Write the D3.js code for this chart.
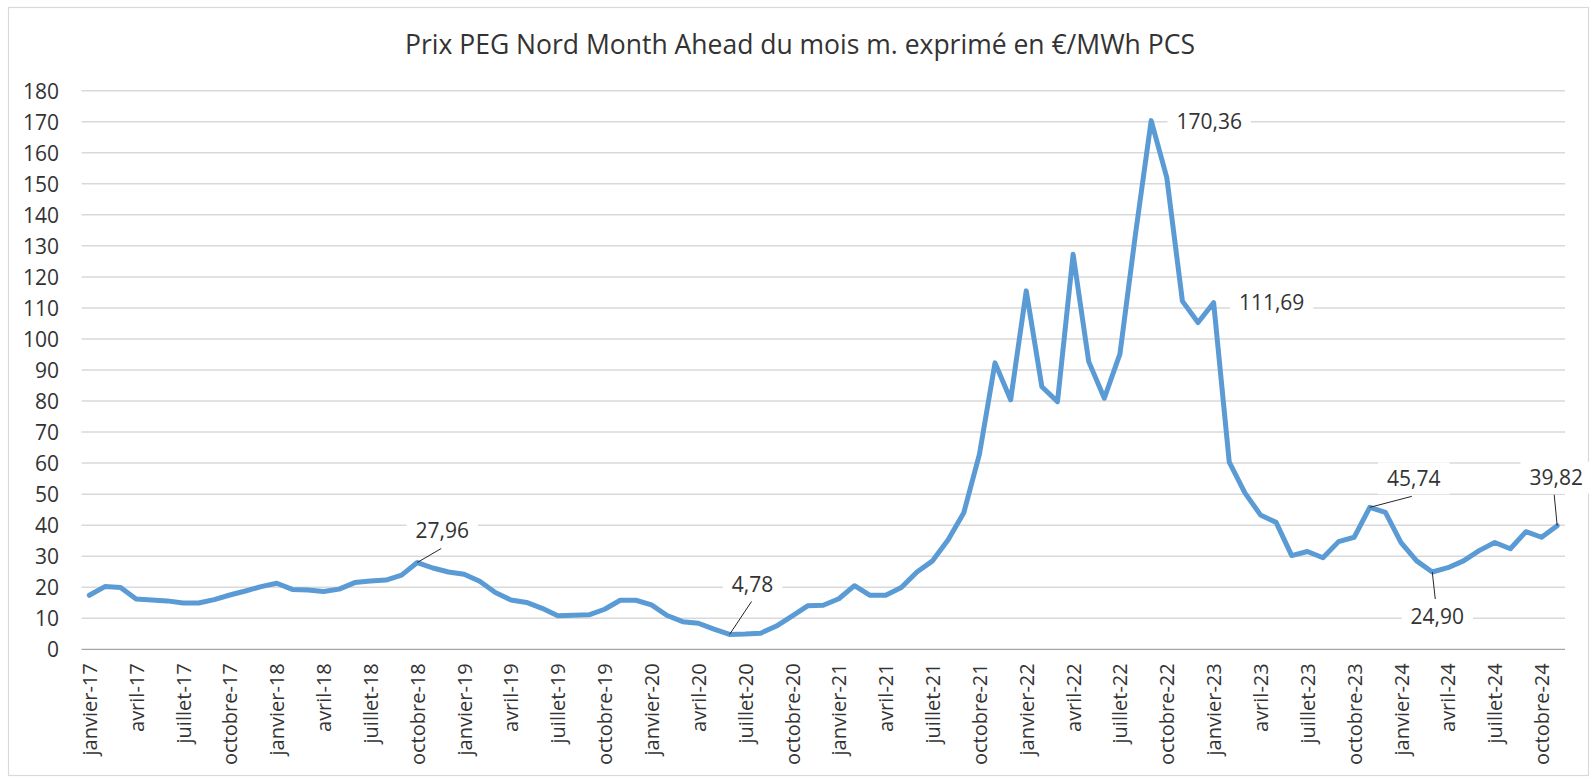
<!DOCTYPE html>
<html>
<head>
<meta charset="utf-8">
<script src="https://cdn.jsdelivr.net/npm/d3@7"></script>
<style>
  html, body { margin: 0; padding: 0; background: #fff; }
  svg { display: block; }
</style>
</head>
<body>
<svg id="chart" width="1596" height="780"></svg>
<script>
// ---------------- DATA ----------------
const title = "Prix PEG Nord Month Ahead du mois m. exprimé en €/MWh PCS";
const monthNames = ["janvier","février","mars","avril","mai","juin","juillet","août","septembre","octobre","novembre","décembre"];
const years = ["17","18","19","20","21","22","23","24"];
// categories: janvier-17 ... novembre-24 (95 months)
const categories = [];
years.forEach(y => monthNames.forEach(m => categories.push(m + "-" + y)));
categories.splice(95);

const prices = [
  17.4, 20.2, 19.9, 16.2, 15.9, 15.6, 14.9, 14.9, 16.0, 17.5, 18.8, 20.2,   // 2017
  21.3, 19.3, 19.1, 18.6, 19.4, 21.5, 22.0, 22.3, 23.9, 27.96, 26.2, 24.9,  // 2018
  24.2, 21.9, 18.3, 15.9, 15.1, 13.2, 10.8, 11.0, 11.1, 12.9, 15.8, 15.8,   // 2019
  14.3, 10.9, 8.9, 8.4, 6.5, 4.78, 4.9, 5.2, 7.5, 10.7, 14.0, 14.2,         // 2020
  16.3, 20.5, 17.4, 17.4, 19.9, 24.9, 28.5, 35.3, 44.0, 62.8, 92.3, 80.4,   // 2021
  115.5, 84.6, 79.8, 127.3, 92.7, 80.9, 95.2, 134.0, 170.36, 152.0, 112.2, 105.3, // 2022
  111.69, 60.3, 50.4, 43.3, 40.9, 30.2, 31.5, 29.5, 34.7, 36.1, 45.74, 44.1,    // 2023
  34.4, 28.5, 24.90, 26.3, 28.5, 31.8, 34.4, 32.4, 37.9, 36.1, 39.82            // 2024
];

const tickLabels = [
  "janvier-17","avril-17","juillet-17","octobre-17",
  "janvier-18","avril-18","juillet-18","octobre-18",
  "janvier-19","avril-19","juillet-19","octobre-19",
  "janvier-20","avril-20","juillet-20","octobre-20",
  "janvier-21","avril-21","juillet-21","octobre-21",
  "janvier-22","avril-22","juillet-22","octobre-22",
  "janvier-23","avril-23","juillet-23","octobre-23",
  "janvier-24","avril-24","juillet-24","octobre-24"
];
const yTicks = [0,10,20,30,40,50,60,70,80,90,100,110,120,130,140,150,160,170,180];

// months that carry a data label
const labelledMonths = ["octobre-18","juin-20","septembre-22","janvier-23","novembre-23","mars-24","novembre-24"];

// ---------------- STYLE / LAYOUT ----------------
const FONT = "'Open Sans', 'Liberation Sans', Arial, sans-serif";
const textColor = "#333333";
const lineColor = "#5B9BD5";
const plot = { left: 81.5, right: 1565, top: 90.7, bottom: 649.3 };
// label placement offsets (center of label relative to point) + leader end
const labelStyle = {
  "octobre-18":   { dx: 25, dy: -32, lx: 24, ly: -14 },
  "juin-20":      { dx: 23, dy: -50, lx: 22, ly: -33 },
  "septembre-22": { dx: 58, dy: 1.5 },
  "janvier-23":   { dx: 58, dy: 0 },
  "novembre-23":  { dx: 44, dy: -29, lx: 42, ly: -11 },
  "mars-24":      { dx: 5,  dy: 45, lx: 3, ly: 27 },
  "novembre-24":  { dx: -1, dy: -48, lx: -3, ly: -31 }
};

const svg = d3.select("#chart");

// frame
svg.append("rect")
  .attr("x", 8.5).attr("y", 7.5).attr("width", 1580).attr("height", 768)
  .attr("fill", "#fff").attr("stroke", "#D9D9D9").attr("stroke-width", 1.2);

const x = d3.scalePoint().domain(categories).range([plot.left, plot.right]).padding(0.5);
const y = d3.scaleLinear().domain([0, 180]).range([plot.bottom, plot.top]);

// title
svg.append("text")
  .attr("x", 800).attr("y", 54)
  .attr("text-anchor", "middle")
  .attr("font-family", FONT).attr("font-size", 26.5)
  .attr("fill", textColor)
  .text(title);

// gridlines
const yAxis = d3.axisLeft(y).tickValues(yTicks).tickSize(0).tickPadding(0).tickFormat(d3.format("d"));
svg.append("g").selectAll("line.grid").data(yTicks.filter(d => d > 0)).join("line")
  .attr("class", "grid")
  .attr("x1", plot.left).attr("x2", plot.right)
  .attr("y1", d => y(d)).attr("y2", d => y(d))
  .attr("stroke", "#D9D9D9").attr("stroke-width", 1.5);

// y axis labels
const yAxisG = svg.append("g").attr("transform", `translate(${59},0)`).call(yAxis);
yAxisG.select(".domain").remove();
yAxisG.selectAll("text")
  .attr("font-family", FONT).attr("font-size", 21).attr("fill", textColor)
  .attr("dy", "0.35em");

// x axis line
svg.append("line")
  .attr("x1", plot.left).attr("x2", plot.right)
  .attr("y1", y(0)).attr("y2", y(0))
  .attr("stroke", "#A6A6A6").attr("stroke-width", 1.3);

// x axis labels
const xAxis = d3.axisBottom(x).tickValues(tickLabels).tickSize(0).tickPadding(0);
const xAxisG = svg.append("g").attr("transform", `translate(0,${y(0)})`).call(xAxis);
xAxisG.select(".domain").remove();
xAxisG.selectAll("text")
  .attr("font-family", FONT).attr("font-size", 20).attr("fill", textColor)
  .attr("text-anchor", "end")
  .attr("transform", "rotate(-90)")
  .attr("x", -14).attr("y", 0).attr("dy", "0.35em");

// line
const series = categories.map((c, i) => ({ c, v: prices[i] }));
svg.append("path")
  .datum(series)
  .attr("fill", "none")
  .attr("stroke", lineColor)
  .attr("stroke-width", 5)
  .attr("stroke-linejoin", "round")
  .attr("stroke-linecap", "round")
  .attr("d", d3.line().x(d => x(d.c)).y(d => y(d.v)));

// data labels
const fmt = v => d3.format(".2f")(v).replace(".", ",");
labelledMonths.forEach(m => {
  const i = categories.indexOf(m);
  const px = x(m), py = y(prices[i]);
  const s = labelStyle[m];
  const g = svg.append("g");
  const t = g.append("text")
    .attr("x", px + s.dx).attr("y", py + s.dy)
    .attr("text-anchor", "middle").attr("dy", "0.35em")
    .attr("font-family", FONT).attr("font-size", 21).attr("fill", textColor)
    .text(fmt(prices[i]));
  const w = t.node().getComputedTextLength();
  g.insert("rect", "text")
    .attr("x", px + s.dx - w / 2 - 9).attr("y", py + s.dy - 16)
    .attr("width", w + 18).attr("height", 32)
    .attr("fill", "#fff");
  if (s.lx !== undefined) {
    svg.append("line")
      .attr("x1", px).attr("y1", py)
      .attr("x2", px + s.lx).attr("y2", py + s.ly)
      .attr("stroke", "#262626").attr("stroke-width", 1);
  }
});
</script>
</body>
</html>
